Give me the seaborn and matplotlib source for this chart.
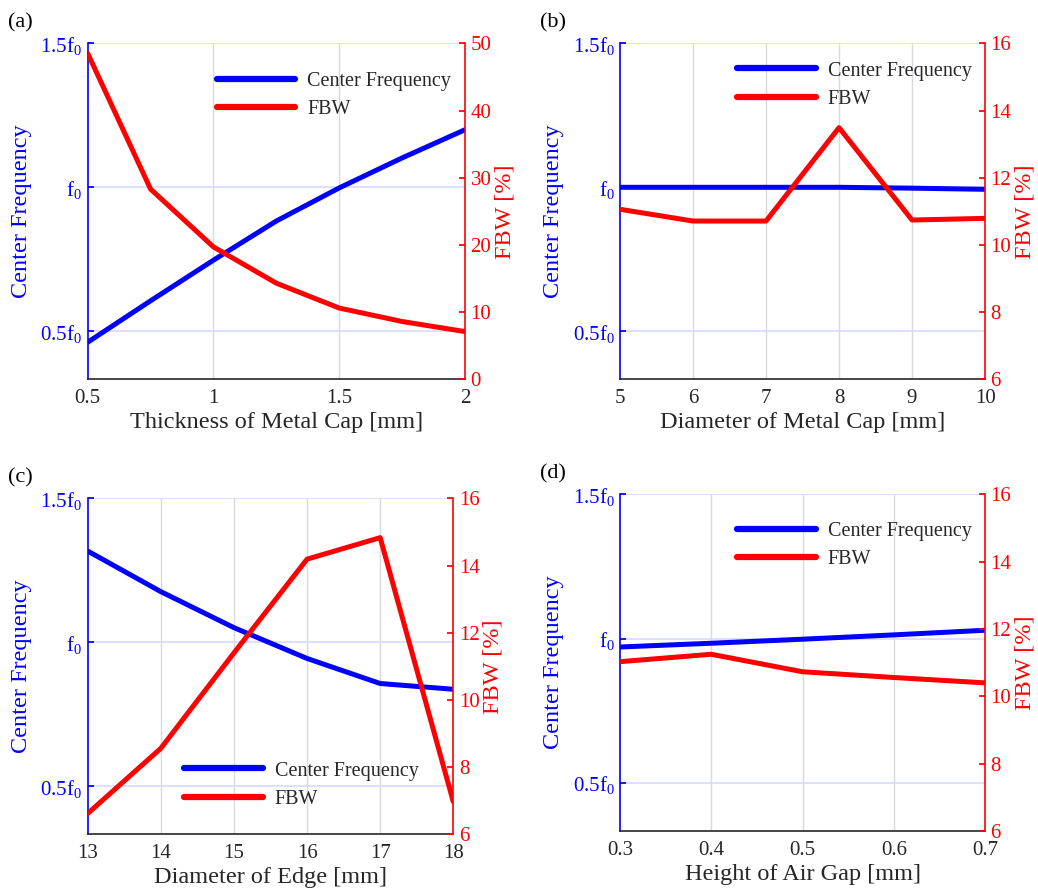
import numpy as np
import pandas as pd
import matplotlib
matplotlib.use("Agg")
import matplotlib.pyplot as plt
import seaborn as sns

# ---- data -------------------------------------------------------------
# (a) thickness of metal cap [mm]
thick_x = [0.5, 0.75, 1.0, 1.25, 1.5, 1.75, 2.0]
thick_fc = [0.462, 0.606, 0.747, 0.883, 0.998, 1.102, 1.200]
thick_fbw = [48.5, 28.3, 19.7, 14.3, 10.6, 8.6, 7.1]

# (b) diameter of metal cap [mm]
diam_x = [5, 6, 7, 8, 9, 10]
diam_fc = [1.000, 1.000, 1.000, 1.000, 0.997, 0.993]
diam_fbw = [11.06, 10.71, 10.71, 13.49, 10.74, 10.79]

# (c) diameter of edge [mm]
edge_x = [13, 14, 15, 16, 17, 18]
edge_fc = [1.317, 1.176, 1.051, 0.944, 0.857, 0.837]
edge_fbw = [6.62, 8.56, 11.40, 14.19, 14.83, 6.97]

# (d) height of air gap [mm]
gap_x = [0.3, 0.4, 0.5, 0.6, 0.7]
gap_fc = [0.971, 0.984, 0.998, 1.013, 1.029]
gap_fbw = [11.03, 11.25, 10.73, 10.56, 10.40]

panels = [
    dict(tag="(a)", x=thick_x, fc=thick_fc, fbw=thick_fbw,
         xlabel="Thickness of Metal Cap [mm]",
         xticks=[0.5, 1, 1.5, 2], xticklabels=["0.5", "1", "1.5", "2"],
         fbw_lim=(0, 50), fbw_ticks=[0, 10, 20, 30, 40, 50]),
    dict(tag="(b)", x=diam_x, fc=diam_fc, fbw=diam_fbw,
         xlabel="Diameter of Metal Cap [mm]",
         xticks=[5, 6, 7, 8, 9, 10], xticklabels=["5", "6", "7", "8", "9", "10"],
         fbw_lim=(6, 16), fbw_ticks=[6, 8, 10, 12, 14, 16]),
    dict(tag="(c)", x=edge_x, fc=edge_fc, fbw=edge_fbw,
         xlabel="Diameter of Edge [mm]",
         xticks=[13, 14, 15, 16, 17, 18], xticklabels=["13", "14", "15", "16", "17", "18"],
         fbw_lim=(6, 16), fbw_ticks=[6, 8, 10, 12, 14, 16]),
    dict(tag="(d)", x=gap_x, fc=gap_fc, fbw=gap_fbw,
         xlabel="Height of Air Gap [mm]",
         xticks=[0.3, 0.4, 0.5, 0.6, 0.7], xticklabels=["0.3", "0.4", "0.5", "0.6", "0.7"],
         fbw_lim=(6, 16), fbw_ticks=[6, 8, 10, 12, 14, 16]),
]

fc_ticks = [0.5, 1.0, 1.5]
fc_ticklabels = [r"0.5f$_0$", r"f$_0$", r"1.5f$_0$"]

# ---- style ------------------------------------------------------------
sns.set_theme(style="white")
plt.rcParams["font.family"] = ["Liberation Serif", "DejaVu Serif"]
plt.rcParams["mathtext.fontset"] = "custom"
plt.rcParams["mathtext.rm"] = "Liberation Serif"
plt.rcParams["mathtext.it"] = "Liberation Serif"

BLUE = (0, 0, 1)
RED = (1, 0, 0)
DARK = (0.15, 0.15, 0.15)

fig = plt.figure(figsize=(10.38, 8.91), dpi=100)

positions = [
    (0.0845, 0.5743, 0.3635, 0.3771),
    (0.5973, 0.5743, 0.3517, 0.3771),
    (0.0845, 0.0636, 0.3522, 0.3771),
    (0.5973, 0.0673, 0.3517, 0.3779),
]
legend_anchor = [
    (0.985, 0.94),
    (0.985, 0.97),
    (0.927, 0.241),
    (0.985, 0.942),
]

for p, pos, lanc in zip(panels, positions, legend_anchor):
    ax = fig.add_axes(pos)
    ax2 = ax.twinx()

    df = pd.DataFrame({"x": p["x"], "fc": p["fc"], "fbw": p["fbw"]})

    xmin, xmax = p["x"][0], p["x"][-1]

    # grid: vertical grey lines, horizontal bluish lines on the left scale
    for xv in p["xticks"][1:-1]:
        ax.axvline(xv, color=(0.85, 0.85, 0.88), lw=1.0, zorder=0)
    for yv in fc_ticks:
        ax.axhline(yv, color=(0.85, 0.85, 1.0), lw=1.2, zorder=0)

    sns.lineplot(data=df, x="x", y="fc", ax=ax, color=BLUE, lw=3.6,
                 label="Center Frequency", legend=False)
    sns.lineplot(data=df, x="x", y="fbw", ax=ax2, color=RED, lw=3.6,
                 label="FBW", legend=False)

    ax.set_xlim(xmin, xmax)
    ax.set_ylim(1 / 3, 1.5)
    ax2.set_ylim(*p["fbw_lim"])

    ax.set_xticks(p["xticks"])
    ax.set_xticklabels(p["xticklabels"])
    ax.set_yticks(fc_ticks)
    ax.set_yticklabels(fc_ticklabels)
    ax2.set_yticks(p["fbw_ticks"])

    ax.tick_params(axis="x", direction="in", length=3, colors=DARK,
                   labelsize=15, pad=7, labelcolor=DARK)
    ax.tick_params(axis="y", direction="in", length=4, color=BLUE,
                   labelcolor=BLUE, labelsize=15, pad=4)
    ax2.tick_params(axis="y", direction="in", length=4, color=RED,
                    labelcolor=RED, labelsize=15, pad=4)
    ax2.tick_params(axis="x", length=0)

    for a in (ax, ax2):
        a.spines["top"].set_visible(False)
    ax.spines["right"].set_visible(False)
    ax2.spines["left"].set_visible(False)
    ax2.spines["bottom"].set_visible(False)
    ax.spines["left"].set_color(BLUE)
    ax.spines["left"].set_linewidth(1.2)
    ax2.spines["right"].set_color(RED)
    ax2.spines["right"].set_linewidth(1.2)
    ax.spines["bottom"].set_color(DARK)
    ax.spines["bottom"].set_linewidth(1.2)

    ax.set_xlabel(p["xlabel"], fontsize=17.5, color=DARK, labelpad=3)
    ax.set_ylabel("Center Frequency", fontsize=17.5, color=BLUE, labelpad=6)
    ax2.set_ylabel("FBW [%]", fontsize=17.5, color=RED, labelpad=2)

    h1, l1 = ax.get_legend_handles_labels()
    h2, l2 = ax2.get_legend_handles_labels()
    leg = ax2.legend(h1 + h2, l1 + l2, loc="upper right", bbox_to_anchor=lanc,
                     frameon=False, fontsize=14.5, handlelength=3.9,
                     handletextpad=0.6, labelspacing=0.45, borderaxespad=0)
    for line in leg.get_lines():
        line.set_linewidth(4.5)

    fig.text(pos[0] - 0.0770, pos[1] + pos[3] + 0.012, p["tag"],
             fontsize=16, color="black", ha="left", va="bottom")

fig.savefig("out.png", dpi=100)
